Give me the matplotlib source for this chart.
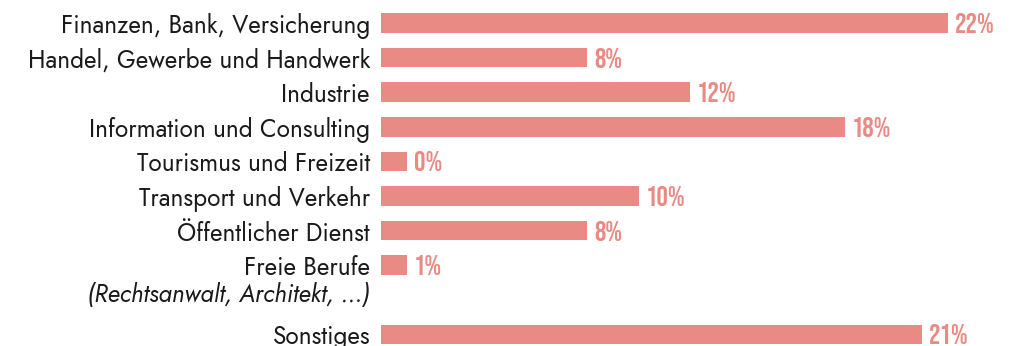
import matplotlib
matplotlib.use("Agg")
import matplotlib.pyplot as plt
from matplotlib import transforms

categories = ["Finanzen, Bank, Versicherung", "Handel, Gewerbe und Handwerk", "Industrie",
              "Information und Consulting", "Tourismus und Freizeit", "Transport und Verkehr",
              "Öffentlicher Dienst", "Freie Berufe", "Sonstiges"]
subnote = "(Rechtsanwalt, Architekt, …)"
values = [22, 8, 12, 18, 0, 10, 8, 1, 21]
positions = [0, 1, 2, 3, 4, 5, 6, 7, 9]

color = "#E98B84"
label_font = ["Jost", "Lato", "DejaVu Sans"]
value_font = ["Bebas Neue", "Oswald", "DejaVu Sans"]

fig = plt.figure(figsize=(10.11, 3.46), dpi=100)
ax = fig.add_axes([381 / 1011, 0, 630 / 1011, 1])

# 0% still gets a small stub bar, like the original
shown = [max(v, 1) for v in values]
ax.barh(positions, shown, height=0.57, color=color)
ax.set_xlim(0, 630 / 25.75)
ax.set_ylim(9.335, -0.665)

ax.set_yticks(positions)
ax.set_yticklabels(categories, family=label_font, fontsize=17.5, color="#1a1a1a")
ax.tick_params(axis="y", length=0, pad=8)
ax.set_xticks([])
for s in ax.spines.values():
    s.set_visible(False)

lab = transforms.offset_copy(ax.get_yaxis_transform(), fig=fig, x=-8, y=0, units="points")
ax.text(0, 7.86, subnote, transform=lab, ha="right", va="center", family=label_font,
        fontsize=17.5, style="italic", color="#1a1a1a")

for p, s, v in zip(positions, shown, values):
    ax.text(s + 0.27, p, f"{v}%", va="center", ha="left", color=color, fontsize=20.5,
            family=value_font)

fig.savefig("out.png", dpi=100)
